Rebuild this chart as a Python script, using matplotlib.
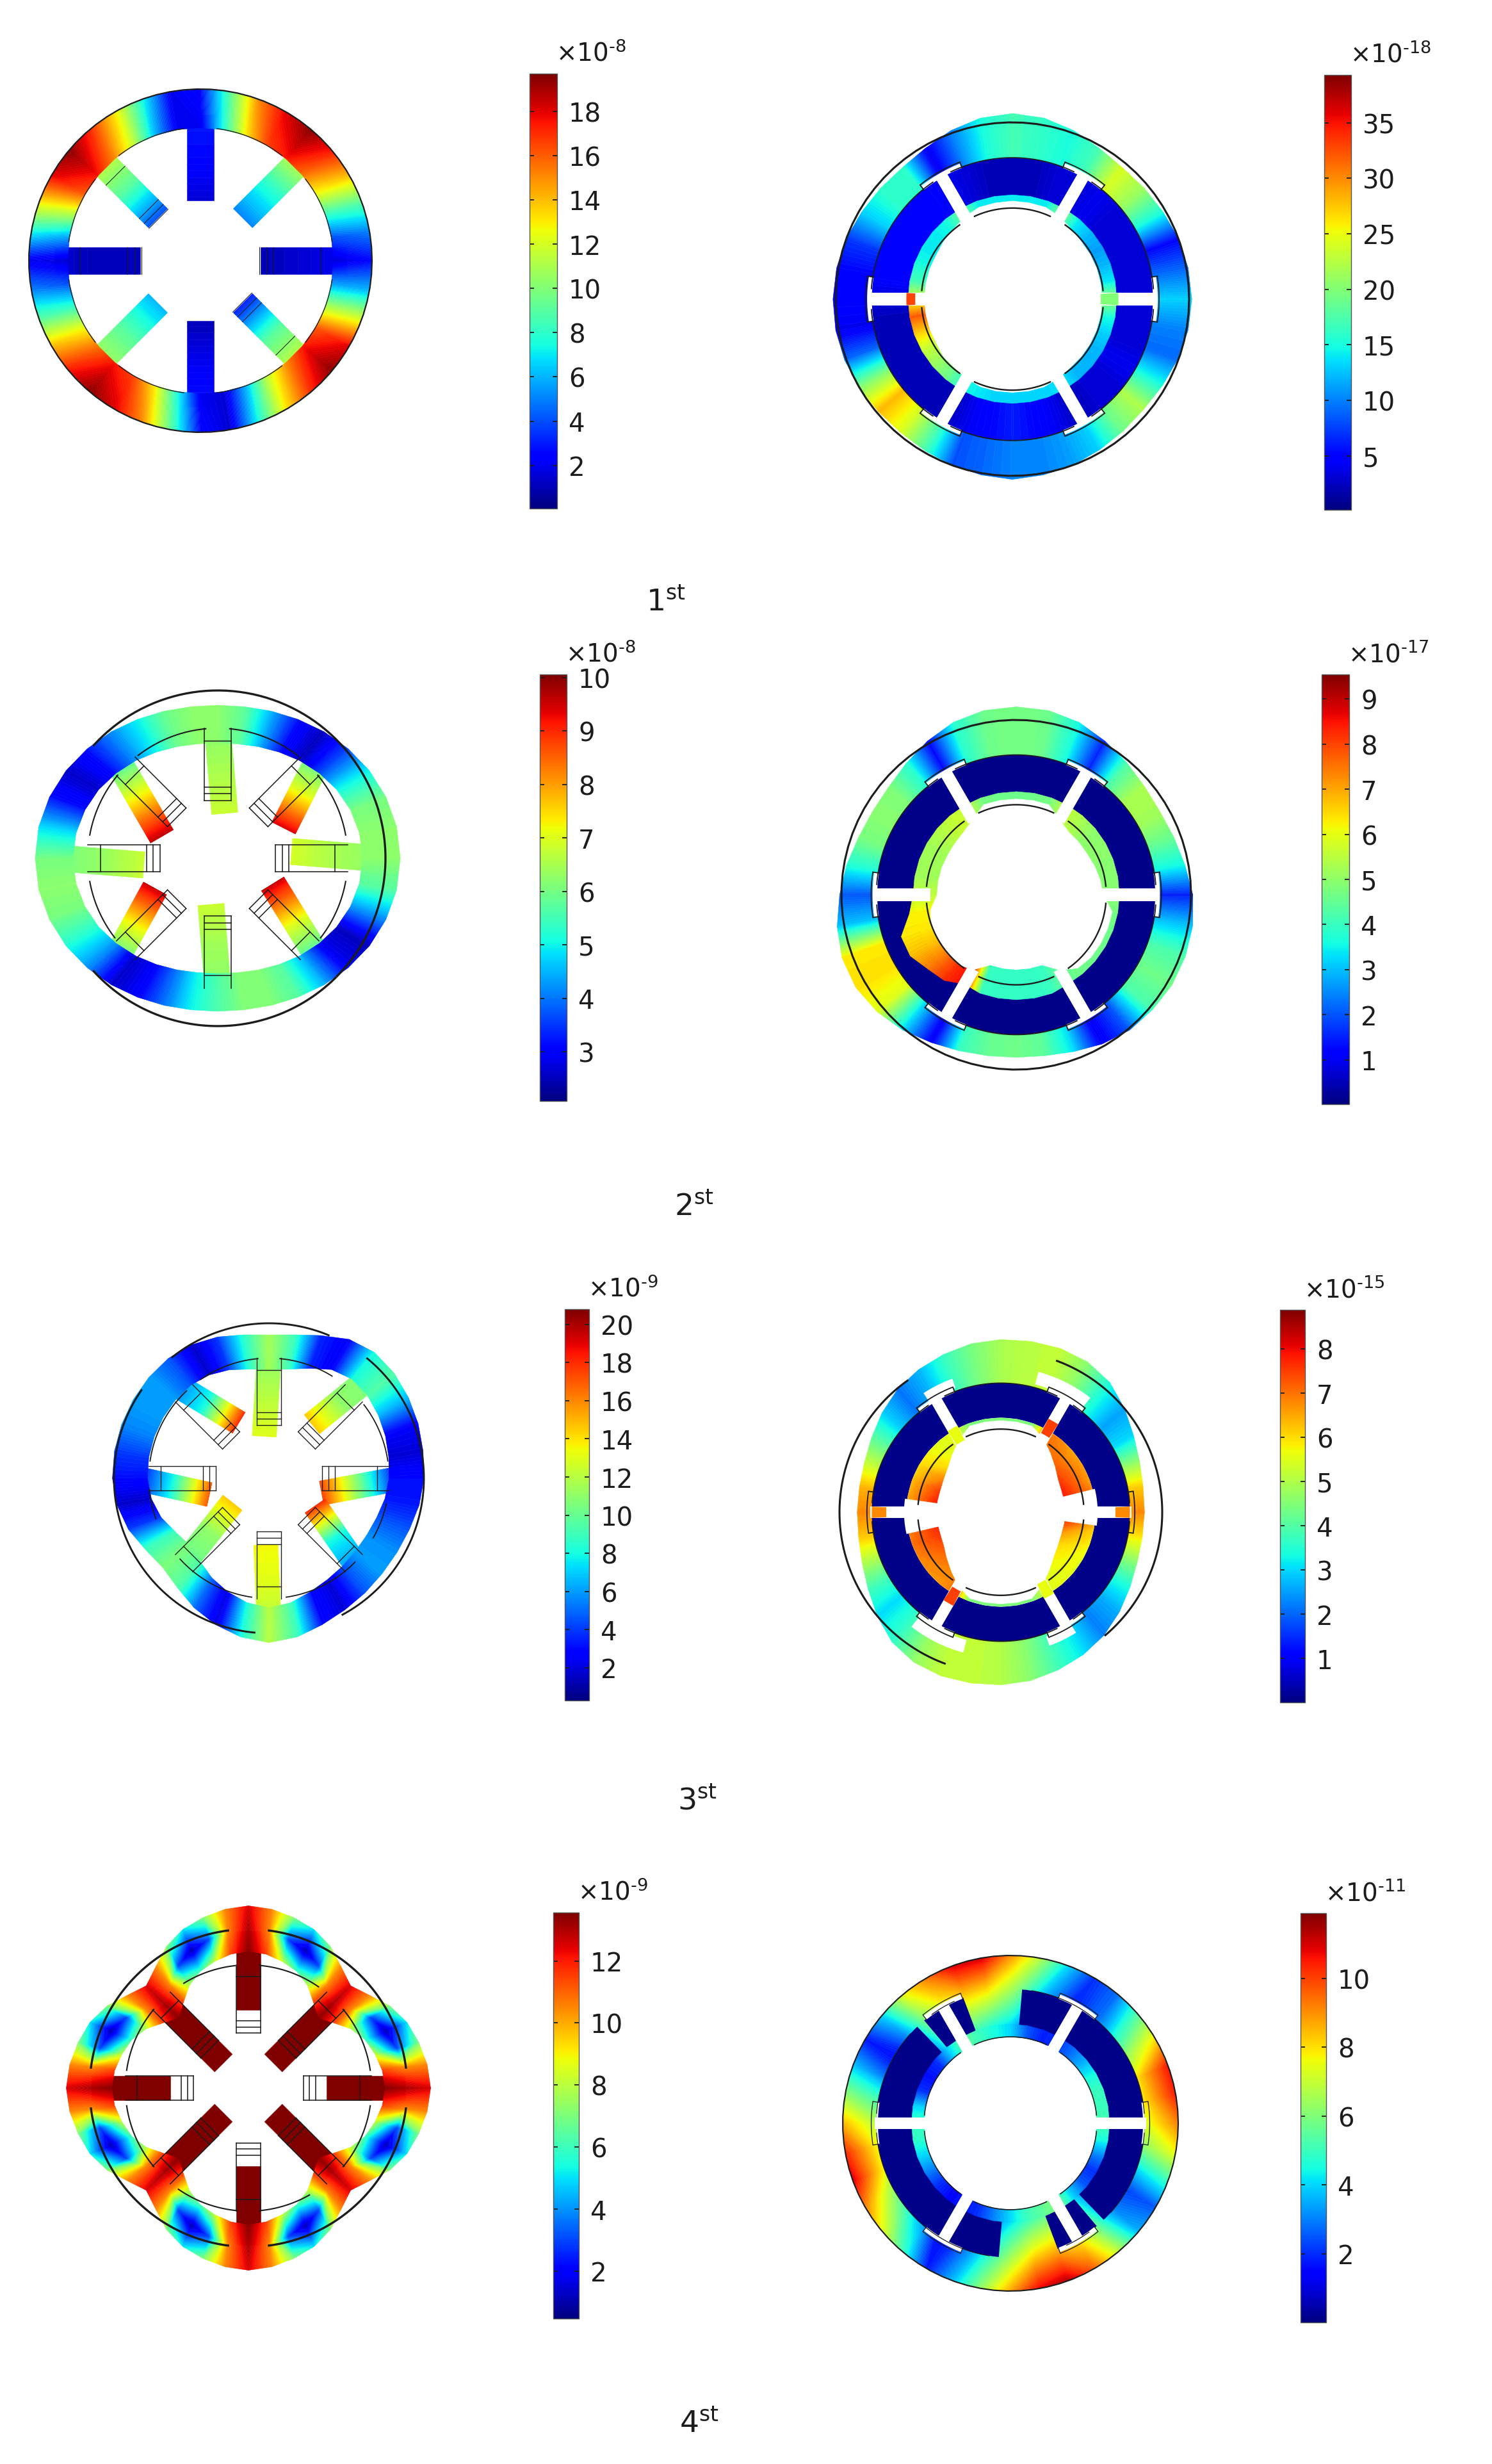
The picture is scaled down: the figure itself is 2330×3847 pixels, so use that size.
import matplotlib
matplotlib.use("Agg")
import matplotlib.pyplot as plt
import numpy as np
from matplotlib.cm import ScalarMappable
from matplotlib.colors import Normalize

W, H = 2330, 3848
INK = "#1c1c1c"

# --- values, ring samples every 10 deg counter clockwise from east ---
spoke_deg = [0, 45, 90, 135, 180, 225, 270, 315]

l1_dr = [0.0] * 36
l1_field_out = [2.5, 5, 9, 14, 17.5, 19.5, 18, 15, 9, 2.5, 2, 7.5, 13, 17, 19.5, 18, 13, 7.5,
                2, 5, 9, 14, 17.5, 19.5, 18, 15, 9, 2.5, 1.5, 7.5, 13, 17, 19.5, 18, 12, 6]
l1_field_in = [1.5, 4, 8, 12.5, 15.5, 17.5, 16.5, 13, 7.5, 2, 2, 6, 11.5, 15, 17.5, 16, 11, 5.5,
               1.5, 4, 8, 12.5, 15.5, 17.5, 16.5, 13, 7.5, 2, 1.5, 6, 11.5, 15, 17.5, 16, 11, 5.5]
l1_spoke_root = [2, 12, 3, 12, 1.5, 11, 3, 12]
l1_spoke_mid = [1.5, 8, 2.5, 9, 1, 9, 2, 9]
l1_spoke_tip = [1, 5, 1.5, 4, 1, 6, 1, 3]
l1_tip_x = [0.35, 0.2475, 0, -0.2475, -0.35, -0.2475, 0, 0.2475]
l1_tip_y = [0, 0.2475, 0.35, 0.2475, 0, -0.2475, -0.35, -0.2475]

l2_dr = [0.088, 0.083, 0.067, 0.044, 0.015, -0.015, -0.044, -0.067, -0.083, -0.088, -0.083, -0.067, -0.044, -0.015, 0.015, 0.044, 0.067, 0.083,
         0.088, 0.083, 0.067, 0.044, 0.015, -0.015, -0.044, -0.067, -0.083, -0.088, -0.083, -0.067, -0.044, -0.015, 0.015, 0.044, 0.067, 0.083]
l2_field = [6.2, 6.2, 6, 5, 3.6, 2.5, 3.2, 4.5, 5.8, 6.2, 6.2, 5.9, 5, 4.2, 3.2, 2.6, 3.2, 4.8,
            6, 6.2, 6, 5.2, 4.2, 2.6, 3, 4, 5, 5.6, 6.1, 6.1, 5.7, 4.5, 2.9, 2.5, 4.2, 5.7]
l2_spoke_root = [6.2, 5.5, 6.2, 5.2, 6, 5.5, 6.2, 5.2]
l2_spoke_mid = [6.5, 7, 6.5, 7.2, 6.3, 7.2, 6.4, 7]
l2_spoke_tip = [6.9, 9.4, 6.8, 9.6, 6.8, 9.5, 6.8, 9.5]
l2_tip_x = [0.44, 0.393, 0.042, -0.332, -0.44, -0.374, -0.04, 0.328]
l2_tip_y = [0.04, 0.18, 0.267, 0.13, -0.04, -0.18, -0.275, -0.153]

l3_dr = [0, 0.01, 0.025, 0.04, 0.055, 0.06, 0.035, -0.02, -0.06, -0.075, -0.06, -0.03, -0.005, 0.01, 0.012, 0.012, 0.012, 0.012,
         0.01, -0.005, -0.035, -0.08, -0.105, -0.08, -0.035, 0.005, 0.04, 0.06, 0.04, 0.005, -0.02, -0.035, -0.045, -0.045, -0.035, -0.015]
l3_field = [3, 1.8, 2.5, 6.5, 9.5, 8, 2.5, 3.5, 9, 11.5, 8.5, 4, 1.6, 4.5, 6, 6, 5.5, 4,
            3, 1.6, 4, 9, 10.5, 9.5, 5, 2, 8, 12, 9, 3, 1.8, 4.5, 6, 5.7, 4.5, 3.2]
l3_spoke_root = [2, 10.5, 11, 5, 2.5, 10, 12, 5.5]
l3_spoke_mid = [10, 11, 12, 8, 8, 11, 13, 8]
l3_spoke_tip = [17.5, 14.5, 13, 18, 17, 14.5, 13.5, 18]
l3_tip_x = [0.34, 0.277, -0.03, -0.194, -0.384, -0.235, -0.02, 0.298]
l3_tip_y = [-0.095, 0.348, 0.27, 0.358, -0.105, -0.157, -0.43, -0.178]

# the 4th wheel repeats every 90 deg, samples every 7.5 deg
l4_dr = [0.137, 0.125, 0.10, 0.07, 0.02, -0.05, -0.10, -0.05, 0.02, 0.07, 0.10, 0.125] * 4
l4_field_in = [13.4, 11.5, 8, 6, 8, 11.5, 13.4, 11.5, 8, 6, 8, 11.5] * 4
l4_field_mid = [13, 10.5, 3, 1, 3, 10.5, 13, 10.5, 3, 1, 3, 10.5] * 4
l4_field_out = [12.5, 10.5, 7, 5, 7, 10.5, 12.5, 10.5, 7, 5, 7, 10.5] * 4
l4_spoke_root = [13.5] * 8
l4_spoke_mid = [13.5] * 8
l4_spoke_tip = [13.5] * 8
l4_tip_x = [0.49, 0.157, 0, -0.157, -0.49, -0.157, 0, 0.157]
l4_tip_y = [0, 0.157, 0.49, 0.157, 0, -0.157, -0.49, -0.157]

r1_dr = [0.015, 0.01, 0, -0.015, -0.025, -0.03, -0.015, 0.015, 0.04, 0.05, 0.04, 0.015, -0.015, -0.03, -0.025, -0.015, 0, 0.01,
         0.015, 0.015, 0.01, 0, -0.01, -0.015, -0.01, 0, 0.01, 0.02, 0.01, 0, -0.015, -0.025, -0.03, -0.02, -0.005, 0.01]
r1_field = [13, 9, 5, 15, 21, 24, 17, 15, 16, 17, 15, 10, 4, 16, 16, 13, 7, 5,
            5, 4, 9, 20, 28, 24, 17, 8, 9, 10, 10, 11, 13, 19, 22, 15, 9, 10]
r1_sector = [3, 3, 3, 3, 3, 4, 3, 3, 2, 2, 2, 3, 4, 5, 5, 5, 5, 5,
             3, 2, 2, 2, 2, 2, 2, 4, 5, 6, 5, 4, 2, 3, 3, 4, 3, 3]
r1_inner = [21, 14, 12, 11, 12, 14, 20, 14, 14, 14, 14, 14, 19, 15, 14, 14, 15, 17,
            24, 32, 27, 23, 21, 19, 15, 14, 13, 13, 13, 13, 14, 12, 12, 12, 13, 15]
r1_inner_r0 = [0.51, 0.51, 0.51, 0.51, 0.51, 0.52, 0.54, 0.555, 0.555, 0.557, 0.555, 0.555, 0.54, 0.52, 0.51, 0.5, 0.5, 0.5,
               0.5, 0.5, 0.5, 0.5, 0.51, 0.51, 0.52, 0.53, 0.53, 0.53, 0.53, 0.53, 0.52, 0.51, 0.51, 0.51, 0.51, 0.51]

r2_dr = [0.01, -0.02, -0.04, -0.05, -0.04, -0.015, 0.015, 0.05, 0.07, 0.075, 0.07, 0.05, 0.015, -0.02, -0.045, -0.05, -0.04, -0.015,
         0.01, 0.04, 0.06, 0.06, 0.04, 0.01, -0.025, -0.05, -0.065, -0.07, -0.065, -0.045, -0.015, 0.01, 0.02, 0.03, 0.03, 0.025]
r2_field = [1.5, 3.5, 4.5, 5.2, 5.3, 4.2, 1.5, 3.6, 4.6, 4.7, 4.6, 3.8, 1.2, 3.8, 4.8, 4.9, 4.7, 3.7,
            2, 3, 6.3, 6.4, 5.9, 3.2, 1, 4, 4.5, 4.6, 4.4, 3.3, 1, 2, 4.2, 4.6, 4.2, 3]
r2_inner = [4.9, 4.9, 4.9, 5, 5, 5.3, 5.6, 4.7, 4.6, 4.6, 4.6, 4.7, 5.6, 5.6, 5.4, 5.2, 5.2, 5.2,
            5.5, 6.2, 6.3, 6.7, 7.4, 8.2, 8.6, 4, 3.9, 3.9, 3.9, 4, 4.5, 4.6, 4.6, 4.6, 4.6, 4.7]
r2_inner_r0 = [0.5, 0.49, 0.48, 0.47, 0.47, 0.47, 0.5, 0.55, 0.55, 0.55, 0.55, 0.55, 0.5, 0.47, 0.46, 0.455, 0.455, 0.455,
               0.455, 0.5, 0.52, 0.52, 0.52, 0.52, 0.5, 0.43, 0.43, 0.43, 0.43, 0.43, 0.5, 0.55, 0.56, 0.56, 0.56, 0.56]
r2_inner_r1 = [0.59, 0.59, 0.59, 0.59, 0.59, 0.59, 0.59, 0.59, 0.59, 0.59, 0.59, 0.59, 0.59, 0.59, 0.59, 0.59, 0.59, 0.59,
               0.59, 0.62, 0.7, 0.7, 0.66, 0.64, 0.59, 0.6, 0.6, 0.6, 0.6, 0.6, 0.59, 0.59, 0.59, 0.59, 0.59, 0.59]

r3_dr = [-0.11, -0.105, -0.085, -0.05, 0, 0.05, 0.075, 0.08, 0.075, 0.07, 0.06, 0.04, 0.02, -0.005, -0.04, -0.075, -0.1, -0.11,
         -0.11, -0.105, -0.085, -0.05, 0, 0.05, 0.075, 0.08, 0.075, 0.07, 0.06, 0.04, 0.02, -0.005, -0.04, -0.075, -0.1, -0.11]
r3_field = [6.8, 6.2, 4.7, 3, 2.5, 3.4, 4.6, 5.2, 5.1, 4.9, 4.4, 3.7, 2.7, 2.1, 2.9, 4.1, 5.2, 6.4,
            6.8, 6.2, 5, 3.8, 3, 3.6, 4.7, 5.2, 5.2, 5, 4.6, 3.8, 3.1, 2.2, 2.6, 3.4, 4.6, 5.9]
r3_inner_out = [7, 7, 6.6, 6.6, 6.5, 6.8, 7, 4.5, 4.5, 4.5, 4.5, 4.5, 5.6, 5.5, 5.7, 6, 6.3, 6.5,
                6.5, 6.8, 7, 6.8, 6.7, 6.7, 7, 4.5, 4.5, 4.5, 4.5, 4.5, 5.5, 5.6, 5.6, 5.6, 5.8, 6.2]
r3_inner_in = [7.8, 7.8, 7.8, 7.5, 7.2, 7, 7.2, 4.5, 4.5, 4.5, 4.5, 4.5, 5.5, 5.6, 6, 6.8, 7.5, 7.8,
               7.8, 7.8, 7.6, 7.3, 7, 6.8, 7, 4.5, 4.5, 4.5, 4.5, 4.5, 5.5, 5.6, 5.8, 6, 6.5, 7.4]
r3_inner_r0 = [0.4, 0.4, 0.4, 0.41, 0.44, 0.48, 0.53, 0.57, 0.57, 0.57, 0.57, 0.57, 0.52, 0.47, 0.43, 0.41, 0.4, 0.4,
               0.4, 0.4, 0.4, 0.41, 0.44, 0.48, 0.53, 0.57, 0.57, 0.57, 0.57, 0.57, 0.52, 0.47, 0.43, 0.41, 0.4, 0.4]

r4_dr = [0.0] * 36
r4_field = [9.2, 10.5, 10.6, 8, 5.5, 2.8, 2, 4, 6.8, 9, 11, 11, 9.3, 7.5, 4, 1.7, 3.8, 6.2,
            8.5, 10.3, 11, 9.2, 7.5, 5, 1.7, 3.7, 6.3, 8.7, 10.8, 11.3, 9.6, 7, 3.5, 2.5, 5, 7.6]
r4_inner = [5.2, 5, 5, 4.5, 3.5, 2.7, 2, 1.8, 2.5, 4, 4.5, 5, 5.5, 4, 2, 1.6, 2, 4,
            5, 4.8, 4, 3, 2, 1.5, 1.7, 2, 3, 4, 5, 5.5, 6, 4, 2.5, 2, 3, 4.5]

# colour bar ranges, ticks and exponents
cbar_vmin = [0.05, 2.08, 0.28, 0.47, 0.15, 0.02, 0.0, 0.0]
cbar_vmax = [19.7, 10.06, 20.8, 13.56, 39.3, 9.54, 8.89, 11.9]
cbar_ticks = [list(range(2, 19, 2)), list(range(3, 11)), list(range(2, 21, 2)), list(range(2, 13, 2)),
              list(range(5, 36, 5)), list(range(1, 10)), list(range(1, 9)), list(range(2, 11, 2))]
cbar_exp = [-8, -8, -9, -9, -18, -17, -15, -11]
mode_labels = ["1", "2", "3", "4"]

# layout in pixels
cbar_box = [(827, 116, 870, 795), (843, 1054, 885, 1720), (882, 2045, 920, 2656), (864, 2987, 904, 3621),
            (2068, 118, 2110, 797), (2064, 1054, 2107, 1725), (1999, 2046, 2038, 2659), (2031, 2988, 2071, 3627)]
label_pos = [(1040, 941), (1084, 1885), (1089, 2812), (1092, 3785)]
R_IN, SPOKE_W = 0.775, 0.157


fig = plt.figure(figsize=(W / 100, H / 100), dpi=100)
ax = fig.add_axes([0, 0, 1, 1])
ax.set_xlim(0, W)
ax.set_ylim(H, 0)
ax.axis("off")


def mesh(X, Y, Z, vmin, vmax):
    levels = np.linspace(vmin, vmax, 129)
    cs = ax.contourf(X, Y, Z, levels=levels, cmap="jet", extend="both", antialiased=True)
    cs.set_edgecolor("face")
    cs.set_linewidth(0.4)


def annulus(cx, cy, R, r0, r1, rows, vmin, vmax):
    # rows go from the inner edge to the outer edge, each sampled round the ring
    r0, r1 = np.append(r0, r0[0]), np.append(r1, r1[0])
    n = len(r0)
    th = np.radians(np.linspace(0, 360, n))
    X, Y, Z = [], [], []
    for i, row in enumerate(rows):
        s = i / (len(rows) - 1)
        rr = (r0 + (r1 - r0) * s) * R
        X.append(cx + rr * np.cos(th))
        Y.append(cy - rr * np.sin(th))
        Z.append(np.append(row, row[0]))
    mesh(np.array(X), np.array(Y), np.array(Z), vmin, vmax)


def arc(cx, cy, R, r, a0, a1, lw=1.4):
    th = np.radians(np.linspace(a0, a1, 80))
    ax.plot(cx + R * r * np.cos(th), cy - R * r * np.sin(th), color=INK, lw=lw, solid_capstyle="butt")


def spoke_frame(cx, cy, R, deg, lw, sides=True):
    a = np.radians(deg)
    u, v = np.array([np.cos(a), -np.sin(a)]), np.array([np.sin(a), np.cos(a)])
    c = np.array([cx, cy])
    hw = SPOKE_W / 2 * R
    if sides:
        for a0, b0, a1, b1 in [(0.345, -hw, 0.775, -hw), (0.345, hw, 0.775, hw)]:
            p, q = c + u * a0 * R + v * b0, c + u * a1 * R + v * b1
            ax.plot([p[0], q[0]], [p[1], q[1]], color=INK, lw=lw)
    for rr in [0.345, 0.385, 0.425, 0.7]:
        p, q = c + u * rr * R - v * hw, c + u * rr * R + v * hw
        ax.plot([p[0], q[0]], [p[1], q[1]], color=INK, lw=lw)


def wheel(cx, cy, R, vmin, vmax, dr, rows, root, mid, tip, tip_x, tip_y, outer, inner, lw=1.4,
          frames=spoke_deg, sides=True, ring_in=R_IN, ring_out=1.0):
    dr = np.array(dr)
    n = len(dr)
    for i, deg in enumerate(spoke_deg):
        a = np.radians(deg)
        k = int(round(deg / (360 / n))) % n
        rr = 0.85 + dr[k]
        p0 = np.array([rr * np.cos(a), rr * np.sin(a)])
        p1 = np.array([tip_x[i], tip_y[i]])
        d = (p1 - p0) / np.hypot(*(p1 - p0))
        nrm = np.array([-d[1], d[0]]) * SPOKE_W / 2
        s = np.array([0, 0.5, 1])[:, None]
        centre = p0 + (p1 - p0) * s
        left, right = centre + nrm, centre - nrm
        X = cx + R * np.vstack([left[:, 0], right[:, 0]])
        Y = cy - R * np.vstack([left[:, 1], right[:, 1]])
        vals = [root[i], mid[i], tip[i]]
        mesh(X, Y, np.array([vals, vals]), vmin, vmax)
    annulus(cx, cy, R, ring_in + dr, ring_out + dr, rows, vmin, vmax)
    for a0, a1 in outer:
        arc(cx, cy, R, 1, a0, a1, lw * 1.6)
    for a0, a1 in inner:
        arc(cx, cy, R, R_IN, a0, a1, lw)
    for deg in frames:
        spoke_frame(cx, cy, R, deg, lw * 0.75, sides)


def band(cx, cy, R, a0, a1, r0, r1, color="white"):
    th = np.radians(np.linspace(a0, a1, 40))
    xs = np.r_[r1 * np.cos(th), r0 * np.cos(th[::-1])]
    ys = np.r_[r1 * np.sin(th), r0 * np.sin(th[::-1])]
    ax.fill(cx + R * xs, cy - R * ys, color=color, lw=0)


def rotor(cx, cy, R, vmin, vmax, dr, rows, ring_r0, sector, spans, in_r0, in_r1, in_rows,
          stubs, pockets, outer, lw=1.3, t_skip=()):
    dr = np.array(dr)
    jet = plt.get_cmap("jet")
    annulus(cx, cy, R, np.full(36, ring_r0), 1 + dr, rows, vmin, vmax)
    if np.isscalar(sector):
        col = jet((sector - vmin) / (vmax - vmin))
        for a0, a1 in spans:
            band(cx, cy, R, a0, a1, 0.585, 0.80, col)
    else:
        annulus(cx, cy, R, np.full(36, 0.585), np.full(36, 0.80), [sector, sector], vmin, vmax)
    annulus(cx, cy, R, np.array(in_r0), np.array(in_r1), in_rows, vmin, vmax)
    hw = 0.035
    for deg in [0, 60, 120, 180, 240, 300]:
        a = np.radians(deg)
        ux, uy = np.cos(a), np.sin(a)
        vx, vy = -uy, ux
        rs = np.array([0.49, 0.81, 0.81, 0.49])
        bs = np.array([-hw, -hw, hw, hw])
        ax.fill(cx + R * (rs * ux + bs * vx), cy - R * (rs * uy + bs * vy), color="white", lw=0)
        if deg not in t_skip:
            band(cx, cy, R, deg - 9, deg + 9, 0.795, 0.822)
        # thin frame of the T end
        arc(cx, cy, R, 0.83, deg - 9, deg + 9, lw)
        for sgn in (-1, 1):
            t = np.radians(deg + sgn * 9)
            ax.plot([cx + R * 0.795 * np.cos(t), cx + R * 0.83 * np.cos(t)],
                    [cy - R * 0.795 * np.sin(t), cy - R * 0.83 * np.sin(t)], color=INK, lw=lw)
    for deg, r0, r1, val in stubs:
        half = np.degrees(hw / r1)
        band(cx, cy, R, deg - half, deg + half, r0, r1, jet((val - vmin) / (vmax - vmin)))
    for a0, a1, r0, r1 in pockets:
        band(cx, cy, R, a0, a1, r0, r1)
    for a0, a1 in outer:
        arc(cx, cy, R, 1, a0, a1, lw * 1.7)
    for a0, a1 in spans:
        arc(cx, cy, R, 0.80, a0 + 4, a1 - 4, lw)
    for k in range(6):
        arc(cx, cy, R, 0.515, 60 * k + 5, 60 * k + 55, lw * 1.3)


full = [(0, 360)]
sixths = [(60 * k, 60 * k + 60) for k in range(6)]
a36 = lambda x: np.array(x, dtype=float)

wheel(313, 408, 268, cbar_vmin[0], cbar_vmax[0], l1_dr, [a36(l1_field_in), a36(l1_field_out)],
      l1_spoke_root, l1_spoke_mid, l1_spoke_tip, l1_tip_x, l1_tip_y, full,
      [(8, 38), (52, 83), (97, 128), (142, 172), (188, 218), (232, 263), (277, 308), (322, 352)],
      lw=1.0, frames=[0, 135, 180, 315], sides=False)
wheel(340, 1341, 262, cbar_vmin[1], cbar_vmax[1], l2_dr, [a36(l2_field), a36(l2_field)],
      l2_spoke_root, l2_spoke_mid, l2_spoke_tip, l2_tip_x, l2_tip_y, [(-45, 138), (222, 315)],
      [(10, 40), (52, 85), (95, 128), (140, 170), (190, 218), (322, 350)], lw=1.5)
wheel(420, 2309, 242, cbar_vmin[2], cbar_vmax[2], l3_dr, [a36(l3_field), a36(l3_field)],
      l3_spoke_root, l3_spoke_mid, l3_spoke_tip, l3_tip_x, l3_tip_y, [(-62, 51), (67, 129), (145, 265)],
      [(8, 38), (58, 85), (95, 125), (133, 172), (185, 200), (222, 262), (278, 316), (330, 348)], lw=1.3)
wheel(388, 3261, 248, cbar_vmin[3], cbar_vmax[3], l4_dr, [a36(l4_field_in), a36(l4_field_mid), a36(l4_field_out)],
      l4_spoke_root, l4_spoke_mid, l4_spoke_tip, l4_tip_x, l4_tip_y, [(7, 83), (97, 173), (187, 263), (277, 353)],
      [(8, 40), (55, 85), (96, 122), (140, 172), (188, 220), (235, 265), (275, 300), (320, 352)], lw=1.5,
      ring_in=0.725, ring_out=1.01)

rotor(1581, 468, 276, cbar_vmin[4], cbar_vmax[4], r1_dr, [a36(r1_field), a36(r1_field)], 0.78,
      a36(r1_sector), sixths, r1_inner_r0, [0.59] * 36, [a36(r1_inner), a36(r1_inner)],
      [(0, 0.5, 0.6, 20), (180, 0.55, 0.6, 33)], [], full)
rotor(1587, 1398, 273, cbar_vmin[5], cbar_vmax[5], r2_dr, [a36(r2_field), a36(r2_field)], 0.78,
      0.1, sixths, r2_inner_r0, r2_inner_r1, [a36(r2_inner), a36(r2_inner)], [], [], full)
rotor(1563, 2362, 252, cbar_vmin[6], cbar_vmax[6], r3_dr, [a36(r3_field), a36(r3_field)], 0.78,
      0.1, sixths, r3_inner_r0, [0.585] * 36, [a36(r3_inner_in), a36(r3_inner_out)],
      [(0, 0.71, 0.8, 6.8), (180, 0.71, 0.8, 6.8), (60, 0.55, 0.65, 7.5), (240, 0.55, 0.65, 7.5),
       (120, 0.5, 0.6, 5.6), (300, 0.5, 0.6, 5.6)],
      [(52, 75, 0.82, 0.9), (110, 123, 0.82, 0.88), (232, 255, 0.82, 0.9), (290, 302, 0.82, 0.88),
       (-8, 14, 0.38, 0.6), (172, 193, 0.38, 0.6)],
      [(-50, 70), (125, 250)], lw=1.3, t_skip=(0, 180))
rotor(1578, 3316, 262, cbar_vmin[7], cbar_vmax[7], r4_dr, [a36(r4_inner), a36(r4_field)], 0.585,
      0.1, [(0, 85), (110.6, 130), (134, 180), (180, 265), (290.6, 310), (314, 360)],
      [0.515] * 36, [0.59] * 36, [a36(r4_inner), a36(r4_inner)], [],
      [(-9, 9, 0.79, 0.80), (171, 189, 0.79, 0.80)], full, lw=0.9, t_skip=(0, 180))

for i, (x0, y0, x1, y1) in enumerate(cbar_box):
    cax = fig.add_axes([x0 / W, 1 - y1 / H, (x1 - x0) / W, (y1 - y0) / H])
    sm = ScalarMappable(Normalize(cbar_vmin[i], cbar_vmax[i]), "jet")
    cb = fig.colorbar(sm, cax=cax, ticks=cbar_ticks[i])
    cb.outline.set_linewidth(1.0)
    cb.outline.set_edgecolor("#555555")
    cax.tick_params(axis="y", left=True, right=True, direction="in", length=5, width=1.3,
                    labelsize=29, pad=13, color=INK, labelcolor=INK)
    ax.text(x1 - 2, y0 - 12, r"$\times 10^{\text{%d}}$" % cbar_exp[i], fontsize=28, color=INK, ha="left", va="bottom")

for lab, (x, y) in zip(mode_labels, label_pos):
    ax.text(x, y, lab + r"$^{\mathrm{st}}$", fontsize=34, color=INK, ha="center", va="center")

fig.savefig("out.png", dpi=100, facecolor="white")
